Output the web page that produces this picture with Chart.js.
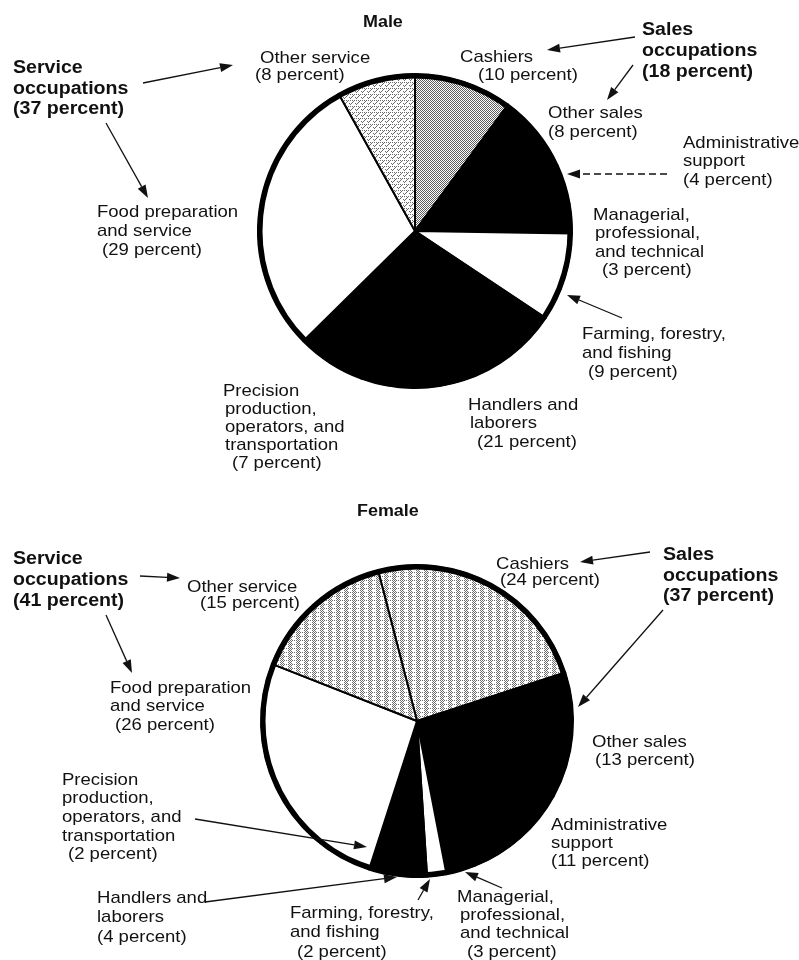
<!DOCTYPE html>
<html>
<head>
<meta charset="utf-8">
<script src="https://cdn.jsdelivr.net/npm/chart.js@4"></script>
<style>
  html, body { margin: 0; padding: 0; background: #fff; }
  #page { position: relative; width: 799px; height: 960px; overflow: hidden;
          font-family: "Liberation Sans", Arial, Helvetica, sans-serif; color: #111; }
  .pie { position: absolute; left: 0; }
  .ln { position: absolute; white-space: nowrap; line-height: 1; transform-origin: 0 0; }
</style>
</head>
<body>
<div id="page">
  <canvas id="maleChart" class="pie" width="799" height="480" style="top:0"></canvas>
  <canvas id="femaleChart" class="pie" width="799" height="480" style="top:480px"></canvas>
</div>
<script>
// occupation groups, clockwise from the first slice
const categories = [
  'Cashiers',
  'Other sales',
  'Administrative support',
  'Managerial, professional, and technical',
  'Farming, forestry, and fishing',
  'Handlers and laborers',
  'Precision production, operators, and transportation',
  'Food preparation and service',
  'Other service'
];
const maleShares   = [10, 8, 4, 3, 9, 21, 7, 29, 8];
const femaleShares = [24, 13, 11, 3, 2, 4, 2, 26, 15];
const groupTotals  = { maleService: 37, maleSales: 18, femaleService: 41, femaleSales: 37 };

// ---- fills ----
function makePattern(size, paint) {
  const c = document.createElement('canvas');
  c.width = c.height = size;
  const g = c.getContext('2d');
  g.fillStyle = '#fff';
  g.fillRect(0, 0, size, size);
  paint(g);
  return g.createPattern(c, 'repeat');
}
// male cashiers: dense stipple
const denseGrey = makePattern(4, g => {
  g.fillStyle = '#5e5e5e';
  for (let y = 0; y < 4; y++) for (let x = 0; x < 4; x++)
    if ((x + y) % 2 == 0) g.fillRect(x, y, 1, 1);
});
// male other service: lighter speckle
const lightGrey = makePattern(6, g => {
  g.fillStyle = '#6a6a6a';
  g.fillRect(1, 1, 1, 1); g.fillRect(2, 2, 1, 1); g.fillRect(3, 1, 1, 1);
  g.fillRect(4, 4, 1, 1); g.fillRect(5, 5, 1, 1); g.fillRect(0, 4, 1, 1);
  g.fillRect(2, 4, 1, 1); g.fillRect(4, 0, 1, 1);
});
// female grey: vertical dithered bands
const bandGrey = makePattern(8, g => {
  g.fillStyle = '#6c6c6c';
  for (let y = 0; y < 8; y++) for (let x = 0; x < 8; x++)
    if ((x + y) % 2 == 0 && (x < 4 || y % 4 == 0)) g.fillRect(x, y, 1, 1);
});
const BLACK = '#000', WHITE = '#fff';
const maleFills   = [denseGrey, BLACK, BLACK, BLACK, WHITE, BLACK, BLACK, WHITE, lightGrey];
const femaleFills = [bandGrey, BLACK, BLACK, BLACK, WHITE, BLACK, BLACK, WHITE, bandGrey];

// ---- callout text, page coords: x, first baseline, line height ----
const labels = [
  { x: 363, y: 28, lh: 18, bold: true, title: true, lines: ['Male'] },
  { x: 255, y: 63, lh: 17, lines: ['Other service', '(8 percent)'], dx: [5, 0] },
  { x: 13, y: 74, lh: 20.5, bold: true, lines: ['Service', 'occupations', '(' + groupTotals.maleService + ' percent)'] },
  { x: 97, y: 217, lh: 19, lines: ['Food preparation', 'and service', '(29 percent)'], dx: [0, 0, 5] },
  { x: 460, y: 62, lh: 18, lines: ['Cashiers', '(10 percent)'], dx: [0, 18] },
  { x: 642, y: 36, lh: 21, bold: true, lines: ['Sales', 'occupations', '(' + groupTotals.maleSales + ' percent)'] },
  { x: 548, y: 118, lh: 19, lines: ['Other sales', '(8 percent)'] },
  { x: 683, y: 148, lh: 18.5, lines: ['Administrative', 'support', '(4 percent)'] },
  { x: 593, y: 220, lh: 18.5, lines: ['Managerial,', 'professional,', 'and technical', '(3 percent)'], dx: [0, 2, 2, 9] },
  { x: 582, y: 339, lh: 19, lines: ['Farming, forestry,', 'and fishing', '(9 percent)'], dx: [0, 0, 6] },
  { x: 468, y: 410, lh: 18.5, lines: ['Handlers and', 'laborers', '(21 percent)'], dx: [0, 2, 9] },
  { x: 223, y: 396, lh: 18, lines: ['Precision', 'production,', 'operators, and', 'transportation', '(7 percent)'], dx: [0, 2, 2, 2, 9] },

  { x: 357, y: 517, lh: 18, bold: true, title: true, lines: ['Female'] },
  { x: 13, y: 565, lh: 21, bold: true, lines: ['Service', 'occupations', '(' + groupTotals.femaleService + ' percent)'] },
  { x: 187, y: 592, lh: 16.5, lines: ['Other service', '(15 percent)'], dx: [0, 13] },
  { x: 110, y: 693, lh: 18.5, lines: ['Food preparation', 'and service', '(26 percent)'], dx: [0, 0, 5] },
  { x: 496, y: 569, lh: 16.5, lines: ['Cashiers', '(24 percent)'], dx: [0, 4] },
  { x: 663, y: 561, lh: 20.5, bold: true, lines: ['Sales', 'occupations', '(' + groupTotals.femaleSales + ' percent)'] },
  { x: 592, y: 747, lh: 18, lines: ['Other sales', '(13 percent)'], dx: [0, 3] },
  { x: 551, y: 830, lh: 18, lines: ['Administrative', 'support', '(11 percent)'] },
  { x: 62, y: 785, lh: 18.7, lines: ['Precision', 'production,', 'operators, and', 'transportation', '(2 percent)'], dx: [0, 0, 0, 0, 6] },
  { x: 97, y: 903, lh: 19.5, lines: ['Handlers and', 'laborers', '(4 percent)'] },
  { x: 290, y: 918, lh: 19.5, lines: ['Farming, forestry,', 'and fishing', '(2 percent)'], dx: [0, 0, 7] },
  { x: 457, y: 902, lh: 18.3, lines: ['Managerial,', 'professional,', 'and technical', '(3 percent)'], dx: [0, 3, 3, 10] }
];

const page = document.getElementById('page');
labels.forEach(l => {
  const size = l.title ? 16 : (l.bold ? 17.5 : 17);
  const stretch = l.bold ? 1.12 : 1.09;
  l.lines.forEach((text, i) => {
    const d = document.createElement('div');
    d.className = 'ln';
    d.textContent = text;
    d.style.fontSize = size + 'px';
    d.style.fontWeight = l.bold ? 'bold' : 'normal';
    d.style.left = (l.x + (l.dx ? l.dx[i] : 0)) + 'px';
    d.style.top = (l.y + i * l.lh - 0.8465 * size) + 'px';
    d.style.transform = 'scaleX(' + stretch + ')';
    page.appendChild(d);
  });
});

// ---- arrows, page coords [fromX, fromY, headX, headY, dashed] ----
const maleArrows = [
  [143, 83, 233, 65], [106, 123, 148, 198], [635, 37, 547, 50],
  [633, 65, 607, 100], [667, 174, 567, 174, true], [622, 318, 567, 295]
];
const femaleArrows = [
  [140, 576, 180, 578], [106, 615, 132, 673], [650, 552, 580, 562],
  [663, 610, 578, 707], [195, 819, 367, 847], [205, 902, 397, 877],
  [418, 900, 430, 879], [502, 888, 465, 872]
];

const calloutPlugin = {
  id: 'callouts',
  afterDatasetsDraw(chart, args, opts) {
    const ctx = chart.ctx;
    const arc = chart.getDatasetMeta(0).data[0];
    // thick rim
    ctx.save();
    ctx.beginPath();
    ctx.arc(arc.x, arc.y, arc.outerRadius - 2, 0, Math.PI * 2);
    ctx.lineWidth = 5;
    ctx.strokeStyle = '#000';
    ctx.stroke();
    ctx.restore();

    opts.arrows.forEach(a => {
      const [x1, y1, x2, y2, dashed] = a;
      const fy1 = y1 - opts.top, fy2 = y2 - opts.top;
      const ang = Math.atan2(fy2 - fy1, x2 - x1);
      const len = 13, half = 4.5;
      const bx = x2 - len * Math.cos(ang), by = fy2 - len * Math.sin(ang);
      ctx.save();
      ctx.strokeStyle = '#111';
      ctx.fillStyle = '#111';
      ctx.lineWidth = 1.3;
      if (dashed) ctx.setLineDash([7, 4]);
      ctx.beginPath();
      ctx.moveTo(x1, fy1);
      ctx.lineTo(bx, by);
      ctx.stroke();
      ctx.setLineDash([]);
      ctx.beginPath();
      ctx.moveTo(x2, fy2);
      ctx.lineTo(bx + half * Math.sin(ang), by - half * Math.cos(ang));
      ctx.lineTo(bx - half * Math.sin(ang), by + half * Math.cos(ang));
      ctx.closePath();
      ctx.fill();
      ctx.restore();
    });
  }
};

function makePie(id, shares, fills, rotation, radius, pad, arrows, top) {
  return new Chart(document.getElementById(id), {
    type: 'pie',
    data: {
      labels: categories,
      datasets: [{
        data: shares,
        backgroundColor: fills,
        borderColor: '#000',
        borderWidth: 2,
        borderJoinStyle: 'round',
        spacing: 0
      }]
    },
    options: {
      responsive: false,
      animation: false,
      rotation: rotation,
      radius: radius,
      layout: { padding: pad },
      events: [],
      plugins: {
        legend: { display: false },
        tooltip: { enabled: false },
        callouts: { arrows: arrows, top: top }
      }
    },
    plugins: [calloutPlugin]
  });
}

makePie('maleChart', maleShares, maleFills, 0, 157,
  { left: 255, right: 224, top: 71, bottom: 89 }, maleArrows, 0);
makePie('femaleChart', femaleShares, femaleFills, -14.5, 156,
  { left: 257, right: 222, top: 81, bottom: 79 }, femaleArrows, 480);
</script>
</body>
</html>
